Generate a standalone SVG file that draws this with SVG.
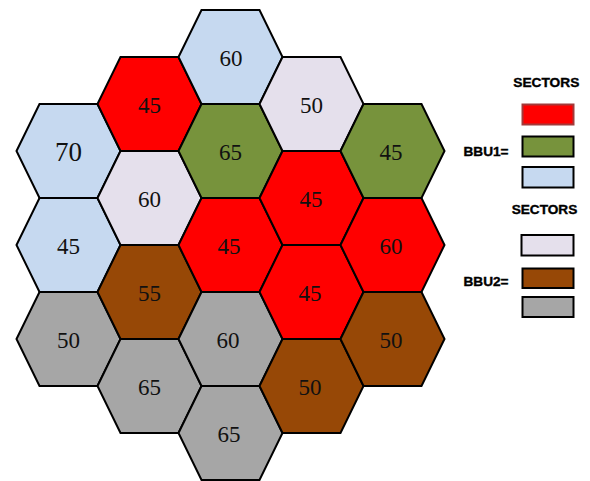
<svg xmlns="http://www.w3.org/2000/svg" width="590" height="481" viewBox="0 0 590 481">
<style>
.hex{stroke:#000;stroke-width:2;stroke-linejoin:miter}
.num{font-family:'Liberation Serif','Times New Roman',serif;font-size:23px;fill:#111;text-anchor:middle}
.big{font-size:27px}
.blue{fill:#c6d9f0}.red{fill:#ff0000}.green{fill:#77933c}.lav{fill:#e5e0ec}.brown{fill:#974806}.gray{fill:#a6a6a6}
.leg{font-family:'Liberation Sans',Arial,sans-serif;font-weight:bold;font-size:12px;fill:#000;stroke:#000;stroke-width:0.35}
.box{stroke:#000;stroke-width:2}
</style>
<defs>
<polygon id="h" points="-52,0 -29,-47 29,-47 52,0 29,47 -29,47"/>
</defs>
<g id="hexes">
<g id="c0r0"><use href="#h" class="hex blue" x="68.5" y="151"/><text class="num big" x="68.5" y="161">70</text></g>
<g id="c0r1"><use href="#h" class="hex blue" x="68.5" y="245"/><text class="num" x="68.5" y="253.5">45</text></g>
<g id="c0r2"><use href="#h" class="hex gray" x="68.5" y="339"/><text class="num" x="68.5" y="347.5">50</text></g>
<g id="c1r0"><use href="#h" class="hex red" x="149.5" y="104"/><text class="num" x="149.5" y="112.5">45</text></g>
<g id="c1r1"><use href="#h" class="hex lav" x="149.5" y="198"/><text class="num" x="149.5" y="206.5">60</text></g>
<g id="c1r2"><use href="#h" class="hex brown" x="149.5" y="292"/><text class="num" x="149.5" y="300.5">55</text></g>
<g id="c1r3"><use href="#h" class="hex gray" x="149.5" y="386"/><text class="num" x="149.5" y="394.5">65</text></g>
<g id="c2r0"><use href="#h" class="hex blue" x="230.5" y="57"/><text class="num" x="231" y="65.5">60</text></g>
<g id="c2r1"><use href="#h" class="hex green" x="230.5" y="151"/><text class="num" x="230.5" y="159.5">65</text></g>
<g id="c2r2"><use href="#h" class="hex red" x="230.5" y="245"/><text class="num" x="229" y="253.5">45</text></g>
<g id="c2r3"><use href="#h" class="hex gray" x="230.5" y="339"/><text class="num" x="228" y="347.5">60</text></g>
<g id="c2r4"><use href="#h" class="hex gray" x="230.5" y="433"/><text class="num" x="229" y="441.5">65</text></g>
<g id="c3r0"><use href="#h" class="hex lav" x="311.5" y="104"/><text class="num" x="311.5" y="112.5">50</text></g>
<g id="c3r1"><use href="#h" class="hex red" x="311.5" y="198"/><text class="num" x="311" y="206.5">45</text></g>
<g id="c3r2"><use href="#h" class="hex red" x="311.5" y="292"/><text class="num" x="310" y="300.5">45</text></g>
<g id="c3r3"><use href="#h" class="hex brown" x="311.5" y="386"/><text class="num" x="310" y="394.5">50</text></g>
<g id="c4r0"><use href="#h" class="hex green" x="392.5" y="151"/><text class="num" x="391" y="159.5">45</text></g>
<g id="c4r1"><use href="#h" class="hex red" x="392.5" y="245"/><text class="num" x="391" y="253.5">60</text></g>
<g id="c4r2"><use href="#h" class="hex brown" x="392.5" y="339"/><text class="num" x="391" y="347.5">50</text></g>
</g>
<g id="legend1">
<text class="leg" x="513.3" y="87.3" textLength="66" lengthAdjust="spacingAndGlyphs">SECTORS</text>
<text class="leg" x="463.5" y="155.5" textLength="45" lengthAdjust="spacingAndGlyphs">BBU1=</text>
<rect x="522.5" y="104.5" width="51" height="20" fill="#ff0000" stroke="#a33a3a" stroke-width="2"/>
<rect class="box" x="522.5" y="136.5" width="51" height="20" fill="#77933c"/>
<rect class="box" x="522.5" y="167" width="51" height="20.5" fill="#c6d9f0"/>
</g>
<g id="legend2">
<text class="leg" x="511.7" y="214.3" textLength="65.6" lengthAdjust="spacingAndGlyphs">SECTORS</text>
<text class="leg" x="463.5" y="285.8" textLength="45" lengthAdjust="spacingAndGlyphs">BBU2=</text>
<rect class="box" x="521.5" y="235" width="52" height="20.5" fill="#e5e0ec"/>
<rect class="box" x="522.5" y="268.5" width="51" height="19.5" fill="#974806"/>
<rect class="box" x="522.5" y="297" width="51" height="20" fill="#a6a6a6"/>
</g>
</svg>
